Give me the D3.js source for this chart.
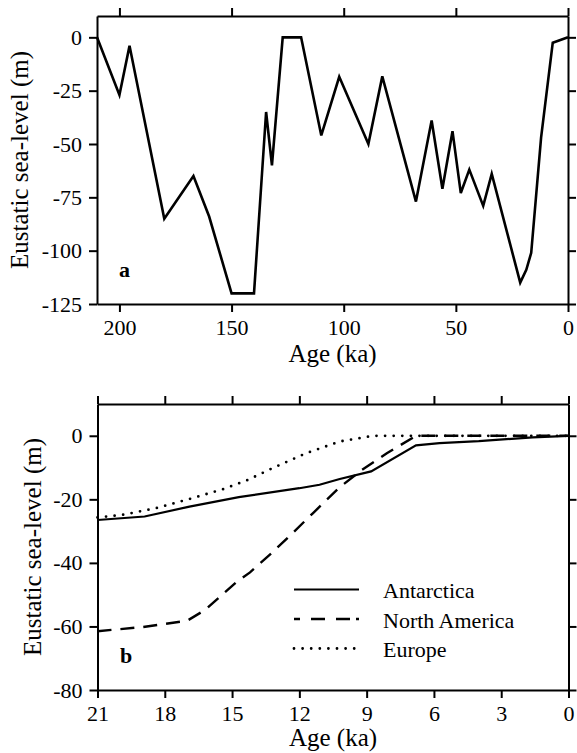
<!DOCTYPE html>
<meta charset="utf-8">
<style>
body { margin: 0; background: #fff; }
svg, svg text { font-family: "Liberation Serif", "Times New Roman", Times, "Nimbus Roman", "DejaVu Serif", serif !important; fill: #000; }
.axis path, .axis line { stroke: #000; stroke-width: 2px; }
.axis text { font-size: 22px; }
.title { font-size: 25px; }
.tag { font-size: 22px; font-weight: bold; }
.legend text { font-size: 22px; }
</style>
<body>
<script src="https://d3js.org/d3.v7.min.js"></script>
<script>

// ---- data, panel a (last glacial cycle) ----
var ageA   = [210, 200, 195.5, 180, 167, 160, 150, 140, 134.6, 132, 127.2, 119, 110, 102, 89, 82.8,
              67.8, 60.8, 56, 51.5, 47.8, 44, 37.8, 34, 21.3, 18.6, 16.4, 12, 6.8, 0];
var levelA = [0, -27, -4, -85, -65, -84, -120, -120, -35, -60, 0, 0, -46, -18.5, -50, -18.3,
              -77, -39, -71, -44, -73, -62, -79, -64, -115, -109, -101, -47, -2.5, 0];
var xTicksA = [200, 150, 100, 50, 0];
var yTicksA = [0, -25, -50, -75, -100, -125];

// ---- data, panel b (since LGM, per ice sheet) ----
var ageAnt   = [21, 18.9, 16.9, 14.7, 12, 11.1, 10.2, 8.8, 6.8, 5.75, 4, 1.6, 0];
var levelAnt = [-26.5, -25.4, -22.3, -19.3, -16.5, -15.4, -13.6, -11.2, -3, -2.3, -1.7, -0.5, 0];
var ageNA    = [21, 19, 17, 16.2, 14.8, 14.2, 13.25, 12.3, 11.4, 10.2, 9.2, 8.1, 6.8, 0];
var levelNA  = [-61.5, -60.2, -58.2, -54.8, -46, -43, -37, -30.6, -24.4, -16.2, -10.7, -5.5, 0, 0];
var ageEu    = [21, 19.9, 18.4, 16.9, 15.4, 14.3, 13.2, 11.7, 10.2, 8.7, 0];
var levelEu  = [-25.7, -24.9, -22.8, -19.9, -16.8, -13.9, -10.2, -5.5, -1.8, 0, 0];
var seriesNames = ["Antarctica", "North America", "Europe"];
var xTicksB = [21, 18, 15, 12, 9, 6, 3, 0];
var yTicksB = [0, -20, -40, -60, -80];

var serif = '"Liberation Serif", "Times New Roman", Times, serif';

var svg = d3.select("body").append("svg")
    .attr("width", 577)
    .attr("height", 753)
    .attr("font-family", serif);

// scales
var xA = d3.scaleLinear().domain([210, 0]).range([97, 568]);
var yA = d3.scaleLinear().domain([-125, 10]).range([304, 16]);
var xB = d3.scaleLinear().domain([21, 0]).range([97.5, 568.5]);
var yB = d3.scaleLinear().domain([-80, 10]).range([690, 404]);

var fmt = function(d) { return String(d); };  // plain hyphen like the original

// draw the boxed frame with outward ticks on all four sides
function frame(x, y, xt, yt) {
  var x0 = x.range()[0], x1 = x.range()[1], y0 = y.range()[0], y1 = y.range()[1];
  svg.append("g").attr("class", "axis")
      .attr("transform", "translate(0," + y0 + ")")
      .call(d3.axisBottom(x).tickValues(xt).tickFormat(fmt).tickSize(8).tickSizeOuter(0).tickPadding(7));
  svg.append("g").attr("class", "axis")
      .attr("transform", "translate(0," + y1 + ")")
      .call(d3.axisTop(x).tickValues(xt).tickFormat("").tickSize(8).tickSizeOuter(0));
  svg.append("g").attr("class", "axis")
      .attr("transform", "translate(" + x0 + ",0)")
      .call(d3.axisLeft(y).tickValues(yt).tickFormat(fmt).tickSize(8).tickSizeOuter(0).tickPadding(7));
  svg.append("g").attr("class", "axis")
      .attr("transform", "translate(" + x1 + ",0)")
      .call(d3.axisRight(y).tickValues(yt).tickFormat("").tickSize(8).tickSizeOuter(0));
  svg.selectAll(".axis").attr("font-family", serif);
}

function titles(x, y, bottomBase, leftBase) {
  svg.append("text").attr("class", "title")
      .attr("x", (x.range()[0] + x.range()[1]) / 2)
      .attr("y", bottomBase)
      .style("text-anchor", "middle")
      .text("Age (ka)");
  svg.append("text").attr("class", "title")
      .attr("transform", "rotate(-90)")
      .attr("x", -(y.range()[0] + y.range()[1]) / 2)
      .attr("y", leftBase)
      .style("text-anchor", "middle")
      .text("Eustatic sea-level (m)");
}

// ---------- panel a ----------
frame(xA, yA, xTicksA, yTicksA);
titles(xA, yA, 362, 28);

var lineA = d3.line()
    .x(function(d, i) { return xA(ageA[i]); })
    .y(function(d, i) { return yA(levelA[i]); });

svg.append("path")
    .datum(levelA)
    .attr("d", lineA)
    .attr("fill", "none")
    .attr("stroke", "#000")
    .attr("stroke-width", 2.6)
    .attr("stroke-linejoin", "miter");

svg.append("text").attr("class", "tag").attr("x", 119).attr("y", 277).text("a");

// ---------- panel b ----------
frame(xB, yB, xTicksB, yTicksB);
titles(xB, yB, 746, 41);

var styles = [
  {dash: null, width: 2.2, cap: "butt"},
  {dash: "14,9", width: 2.4, cap: "butt"},
  {dash: "0,8.6", width: 2.8, cap: "round"}
];
var seriesB = [
  {ages: ageAnt, levels: levelAnt},
  {ages: ageNA, levels: levelNA},
  {ages: ageEu, levels: levelEu}
];

seriesB.forEach(function(s, k) {
  var ln = d3.line()
      .x(function(d, i) { return xB(s.ages[i]); })
      .y(function(d) { return yB(d); });
  svg.append("path")
      .datum(s.levels)
      .attr("d", ln)
      .attr("fill", "none")
      .attr("stroke", "#000")
      .attr("stroke-width", styles[k].width)
      .attr("stroke-linecap", styles[k].cap)
      .attr("stroke-dasharray", styles[k].dash);
});

svg.append("text").attr("class", "tag").attr("x", 120).attr("y", 663).text("b");

// legend
var legend = svg.append("g").attr("class", "legend");
seriesNames.forEach(function(name, k) {
  var ly = 589.5 + k * 29.5;
  legend.append("line")
      .attr("x1", 294).attr("x2", 359)
      .attr("y1", ly).attr("y2", ly)
      .attr("stroke", "#000")
      .attr("stroke-width", styles[k].width)
      .attr("stroke-linecap", styles[k].cap)
      .attr("stroke-dasharray", k == 1 ? "6,11,14,11,14" : styles[k].dash);
  legend.append("text")
      .attr("x", 383).attr("y", ly + 8.5)
      .text(name);
});

</script>
</body>
